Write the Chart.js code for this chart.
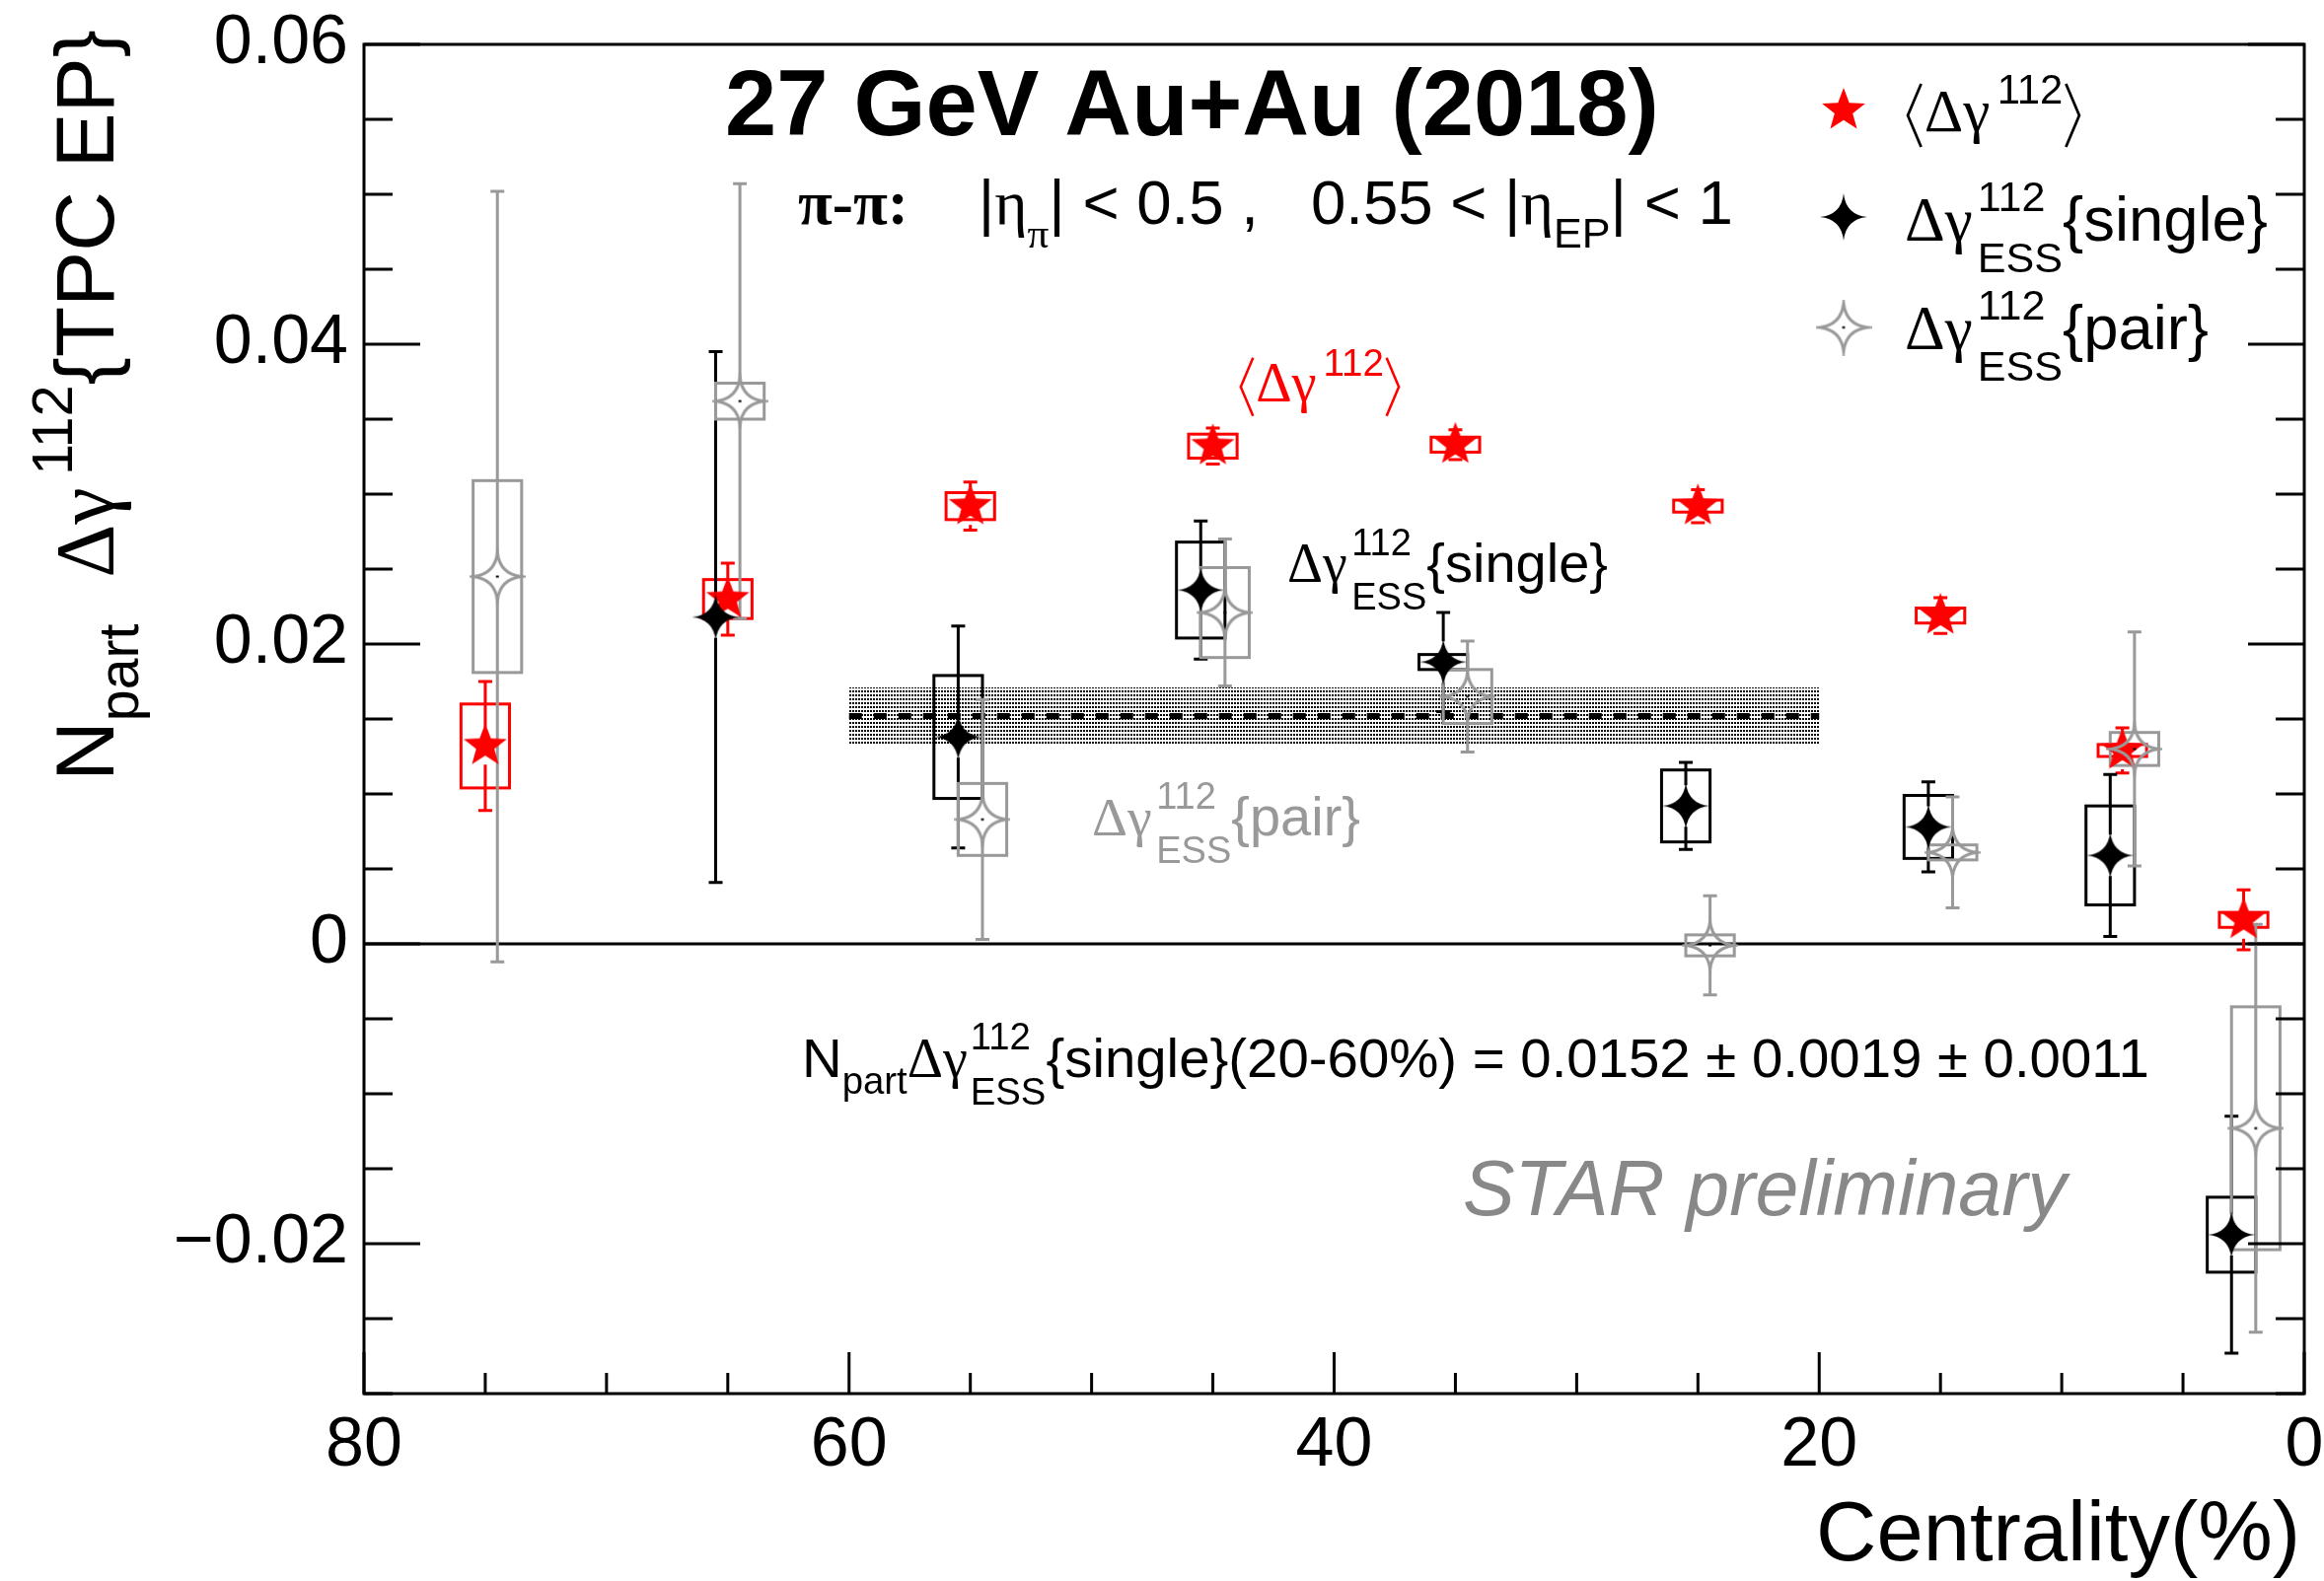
<!DOCTYPE html>
<html>
<head>
<meta charset="utf-8">
<script src="https://cdn.jsdelivr.net/npm/chart.js@4.4.1/dist/chart.umd.min.js"></script>
<style>
  html, body { margin: 0; padding: 0; background: #fff; }
  canvas { display: block; }
</style>
</head>
<body>
<canvas id="chart" width="2356" height="1603" style="width:2356px;height:1603px"></canvas>
<script>
// <Δγ112> (red stars)
const centMean  = [75, 65, 55, 45, 35, 25, 15, 7.5, 2.5];
const meanVal   = [0.0132, 0.0230, 0.0292, 0.0332, 0.0333, 0.0292, 0.0219, 0.0129, 0.0016];
const meanStat  = [0.0043, 0.0024, 0.0016, 0.0012, 0.0010, 0.0011, 0.0012, 0.0015, 0.0020];
const meanSys   = [0.0028, 0.0013, 0.0009, 0.0008, 0.0005, 0.0004, 0.0005, 0.0004, 0.0005];

// Δγ112_ESS{single} (black stars)
const centSingle = [65.5, 55.5, 45.5, 35.5, 25.5, 15.5, 8, 3];
const singleVal  = [0.0218, 0.0138, 0.0236, 0.0188, 0.0092, 0.0078, 0.0059, -0.0194];
const singleStat = [0.0177, 0.0074, 0.0046, 0.0033, 0.0029, 0.0030, 0.0054, 0.0079];
const singleSys  = [0, 0.0041, 0.0032, 0.0005, 0.0024, 0.0021, 0.0033, 0.0025];

// Δγ112_ESS{pair} (grey open stars)
const centPair = [74.5, 64.5, 54.5, 44.5, 34.5, 24.5, 14.5, 7, 2];
const pairVal  = [0.0245, 0.0362, 0.0083, 0.0221, 0.0165, -0.0001, 0.0061, 0.0130, -0.0123];
const pairStat = [0.0257, 0.0145, 0.0080, 0.0049, 0.0037, 0.0033, 0.0037, 0.0078, 0.0136];
const pairSys  = [0.0064, 0.0012, 0.0024, 0.0030, 0.0018, 0.0007, 0.0005, 0.0011, 0.0081];

// 20-60% average of the single result
const avgRange = [60, 20];
const avgVal = 0.0152;
const avgStat = 0.0019;

const xTickVals = [80, 60, 40, 20, 0];
const yTickVals = [-0.02, 0, 0.02, 0.04, 0.06];
const yTickText = ['\u22120.02', '0', '0.02', '0.04', '0.06'];

const SANS = '"Liberation Sans", Arial, Helvetica, sans-serif';
const SERIF = '"Liberation Serif", "Times New Roman", serif';
const RED = '#ff0000';
const GREY = '#999999';
const BOX_HALF = 1.0;   // sys box half width in centrality units
const CAP = 7;

Chart.defaults.font.family = SANS;

// markers
function starMarker(n, R, inner, fill, stroke, lw, dot, curved) {
  const s = Math.ceil(2 * R + lw + 6);
  const c = document.createElement('canvas');
  c.width = c.height = s;
  const g = c.getContext('2d');
  g.translate(s / 2, s / 2);
  g.beginPath();
  for (let i = 0; i < n; i++) {
    const a = -Math.PI / 2 + i * 2 * Math.PI / n;
    const b = a + Math.PI / n;
    const a2 = a + 2 * Math.PI / n;
    if (i === 0) g.moveTo(R * Math.cos(a), R * Math.sin(a));
    if (curved) {
      g.quadraticCurveTo(inner * R * Math.cos(b), inner * R * Math.sin(b), R * Math.cos(a2), R * Math.sin(a2));
    } else {
      g.lineTo(inner * R * Math.cos(b), inner * R * Math.sin(b));
      g.lineTo(R * Math.cos(a2), R * Math.sin(a2));
    }
  }
  g.closePath();
  if (fill) { g.fillStyle = fill; g.fill(); }
  if (stroke) { g.strokeStyle = stroke; g.lineWidth = lw; g.lineJoin = 'miter'; g.stroke(); }
  if (dot) { g.fillStyle = dot; g.fillRect(-1.5, -1, 3, 2); }
  return c;
}
const redStar = starMarker(5, 23, 0.42, RED, null, 0, null, false);
const blackStar = starMarker(4, 24, 0.13, '#000', null, 0, null, true);
const greyStar = starMarker(4, 24, 0.16, null, GREY, 3, '#000', true);

// rich text (ROOT-like latex bits)
function fontOf(k, s) {
  const fam = (k === 'g' || k === 'gb') ? SERIF : SANS;
  const w = (k === 'b' || k === 'gb') ? 'bold ' : '';
  const it = k === 'i' ? 'italic ' : '';
  return it + w + s + 'px ' + fam;
}
function layoutRich(ctx, parts, F) {
  let x = 0;
  const out = [];
  for (const p of parts) {
    if (p.br) { out.push({ p, x }); x += 0.32 * F; continue; }
    if (p.sup != null || p.sub != null) {
      const s = F * 0.68;
      x += (p.pre || 0) * F;
      ctx.font = fontOf(p.k || 'n', s);
      const w = Math.max(p.sup ? ctx.measureText(p.sup).width : 0, p.sub ? ctx.measureText(p.sub).width : 0);
      out.push({ p, x, s });
      x += w + (p.post || 0) * F;
      continue;
    }
    const s = F * (p.sc || 1);
    ctx.font = fontOf(p.k || 'n', s);
    out.push({ p, x, s });
    x += ctx.measureText(p.t).width;
  }
  return { out, w: x };
}
function drawRich(ctx, parts, x0, y0, opt) {
  let F = opt.size;
  let L = layoutRich(ctx, parts, F);
  if (opt.width) { F = F * opt.width / L.w; L = layoutRich(ctx, parts, F); }
  let x = x0;
  if (opt.align === 'right') x -= L.w;
  else if (opt.align === 'center') x -= L.w / 2;
  ctx.save();
  ctx.fillStyle = ctx.strokeStyle = opt.color || '#000';
  ctx.textBaseline = 'alphabetic';
  ctx.textAlign = 'left';
  for (const it of L.out) {
    const p = it.p, px = x + it.x;
    if (p.br) {
      const a = px + 0.05 * F, b = px + 0.27 * F;
      ctx.lineWidth = 0.045 * F;
      ctx.beginPath();
      if (p.br < 0) { ctx.moveTo(b, y0 - 0.78 * F); ctx.lineTo(a, y0 - 0.26 * F); ctx.lineTo(b, y0 + 0.26 * F); }
      else { ctx.moveTo(a, y0 - 0.78 * F); ctx.lineTo(b, y0 - 0.26 * F); ctx.lineTo(a, y0 + 0.26 * F); }
      ctx.stroke();
      continue;
    }
    ctx.font = fontOf(p.k || 'n', it.s);
    if (p.sup != null || p.sub != null) {
      if (p.sup) ctx.fillText(p.sup, px, y0 - (p.up != null ? p.up : 0.45) * F);
      if (p.sub) ctx.fillText(p.sub, px, y0 + (p.dn != null ? p.dn : 0.3) * F);
    } else {
      ctx.fillText(p.t, px, y0);
    }
  }
  ctx.restore();
}

const meanLabel = [{ br: -1 }, { t: '\u0394\u03b3', k: 'g' }, { sup: '112', pre: 0.12, up: 0.45 }, { br: 1 }];
const singleLabel = [{ t: '\u0394\u03b3', k: 'g' }, { sup: '112', sub: 'ESS', pre: 0.08, up: 0.48, dn: 0.5 }, { t: '{single}' }];
const pairLabel = [{ t: '\u0394\u03b3', k: 'g' }, { sup: '112', sub: 'ESS', pre: 0.08, up: 0.48, dn: 0.5 }, { t: '{pair}' }];

function drawSeries(ctx, x, y, cents, vals, stat, sys, color, gap) {
  ctx.strokeStyle = color;
  ctx.lineWidth = 3;
  for (let i = 0; i < cents.length; i++) {
    const px = x.getPixelForValue(cents[i]);
    const py = y.getPixelForValue(vals[i]);
    if (sys[i] > 0) {
      const xl = x.getPixelForValue(cents[i] + BOX_HALF);
      const xr = x.getPixelForValue(cents[i] - BOX_HALF);
      const bt = y.getPixelForValue(vals[i] + sys[i]);
      const bb = y.getPixelForValue(vals[i] - sys[i]);
      ctx.strokeRect(Math.min(xl, xr), bt, Math.abs(xr - xl), bb - bt);
    }
    const et = y.getPixelForValue(vals[i] + stat[i]);
    const eb = y.getPixelForValue(vals[i] - stat[i]);
    ctx.beginPath();
    if (py - gap > et) { ctx.moveTo(px, et); ctx.lineTo(px, py - gap); }
    if (py + gap < eb) { ctx.moveTo(px, py + gap); ctx.lineTo(px, eb); }
    ctx.moveTo(px - CAP, et); ctx.lineTo(px + CAP, et);
    ctx.moveTo(px - CAP, eb); ctx.lineTo(px + CAP, eb);
    ctx.stroke();
  }
}

const rootStyle = {
  id: 'rootStyle',
  beforeDatasetsDraw(chart) {
    const { ctx, chartArea: a, scales: { x, y } } = chart;
    ctx.save();
    // average band + dashed line
    const pc = document.createElement('canvas');
    pc.width = 3; pc.height = 4;
    const pg = pc.getContext('2d');
    pg.fillStyle = '#000';
    pg.fillRect(0, 0, 2, 2);
    const bx0 = x.getPixelForValue(avgRange[0]), bx1 = x.getPixelForValue(avgRange[1]);
    const by0 = y.getPixelForValue(avgVal + avgStat), by1 = y.getPixelForValue(avgVal - avgStat);
    ctx.fillStyle = ctx.createPattern(pc, 'repeat');
    ctx.fillRect(bx0, by0, bx1 - bx0, by1 - by0);
    ctx.strokeStyle = '#000';
    ctx.lineWidth = 6;
    ctx.setLineDash([13, 12]);
    ctx.beginPath();
    ctx.moveTo(bx0, y.getPixelForValue(avgVal));
    ctx.lineTo(bx1, y.getPixelForValue(avgVal));
    ctx.stroke();
    ctx.setLineDash([]);
    // zero line
    ctx.lineWidth = 3;
    ctx.beginPath();
    ctx.moveTo(a.left, y.getPixelForValue(0));
    ctx.lineTo(a.right, y.getPixelForValue(0));
    ctx.stroke();
    drawSeries(ctx, x, y, centMean, meanVal, meanStat, meanSys, RED, 19);
    drawSeries(ctx, x, y, centSingle, singleVal, singleStat, singleSys, '#000', 21);
    drawSeries(ctx, x, y, centPair, pairVal, pairStat, pairSys, GREY, 22);
    ctx.restore();
  },
  afterDraw(chart) {
    const { ctx, chartArea: a, scales: { x, y } } = chart;
    ctx.save();
    // frame
    ctx.strokeStyle = '#000';
    ctx.lineWidth = 3;
    ctx.strokeRect(a.left, a.top, a.right - a.left, a.bottom - a.top);
    // ticks (inside, ROOT style)
    ctx.beginPath();
    for (let v = -0.03; v <= 0.0601; v += 0.005) {
      const py = y.getPixelForValue(v);
      const major = yTickVals.some(t => Math.abs(t - v) < 1e-6);
      const len = major ? 57 : 29;
      ctx.moveTo(a.left, py); ctx.lineTo(a.left + len, py);
      ctx.moveTo(a.right, py); ctx.lineTo(a.right - len, py);
    }
    for (let c = 0; c <= 80; c += 5) {
      const px = x.getPixelForValue(c);
      const len = xTickVals.includes(c) ? 42 : 21;
      ctx.moveTo(px, a.bottom); ctx.lineTo(px, a.bottom - len);
    }
    ctx.stroke();

    // axis titles
    drawRich(ctx, [{ t: 'Centrality(%)' }], 2332, 1582, { size: 86, width: 491, align: 'right' });
    ctx.save();
    ctx.translate(115, 792);
    ctx.rotate(-Math.PI / 2);
    drawRich(ctx, [{ t: 'N' }, { sub: 'part', dn: 0.3 }, { t: '  ' }, { t: '\u0394\u03b3', k: 'g' },
      { sup: '112', pre: 0.15, up: 0.5 }, { t: '{TPC EP}' }], 0, 0, { size: 84, width: 762 });
    ctx.restore();

    // header
    drawRich(ctx, [{ t: '27 GeV Au+Au (2018)', k: 'b' }], 735, 137, { size: 92, width: 947 });
    drawRich(ctx, [{ t: '\u03c0-\u03c0:', k: 'gb' }, { t: '    ' }, { t: '|' }, { t: '\u03b7', k: 'g' },
      { sub: '\u03c0', k: 'g', dn: 0.38 }, { t: '| < 0.5 ,   0.55 < |' }, { t: '\u03b7', k: 'g' },
      { sub: 'EP', dn: 0.38 }, { t: '| < 1' }], 809, 227, { size: 62, width: 948 });

    // legend
    ctx.drawImage(redStar, 1869 - redStar.width / 2, 112 - redStar.height / 2);
    ctx.drawImage(blackStar, 1869 - blackStar.width / 2, 220 - blackStar.height / 2);
    ctx.drawImage(greyStar, 1869 - greyStar.width / 2, 332 - greyStar.height / 2);
    drawRich(ctx, meanLabel, 1931, 133, { size: 66, width: 180 });
    drawRich(ctx, singleLabel, 1931, 244, { size: 66, width: 368 });
    drawRich(ctx, pairLabel, 1931, 354, { size: 66, width: 308 });

    // labels inside the frame
    drawRich(ctx, meanLabel, 1255, 407, { size: 60, width: 166, color: RED });
    drawRich(ctx, singleLabel, 1305, 590, { size: 58, width: 325 });
    drawRich(ctx, pairLabel, 1107, 847, { size: 58, width: 272, color: GREY });
    drawRich(ctx, [{ t: 'N' }, { sub: 'part', dn: 0.3 }, { t: '\u0394\u03b3', k: 'g' },
      { sup: '112', sub: 'ESS', pre: 0.05, up: 0.5, dn: 0.5 },
      { t: '{single}(20-60%) = 0.0152 \u00b1 0.0019 \u00b1 0.0011' }], 813, 1092, { size: 55, width: 1366 });
    drawRich(ctx, [{ t: 'STAR preliminary', k: 'i' }], 1483, 1232, { size: 78, width: 612, color: '#888888' });
    ctx.restore();
  }
};

const toPts = (xs, ys) => xs.map((c, i) => ({ x: c, y: ys[i] }));

new Chart(document.getElementById('chart'), {
  type: 'scatter',
  data: {
    datasets: [
      { label: 'pair', data: toPts(centPair, pairVal), pointStyle: greyStar, order: 1 },
      { label: 'single', data: toPts(centSingle, singleVal), pointStyle: blackStar, order: 2 },
      { label: 'mean', data: toPts(centMean, meanVal), pointStyle: redStar, order: 3 }
    ]
  },
  options: {
    responsive: false,
    animation: false,
    devicePixelRatio: 1,
    layout: { padding: { left: 0, right: 20, top: 45, bottom: 0 } },
    plugins: { legend: { display: false }, tooltip: { enabled: false } },
    scales: {
      x: {
        type: 'linear', reverse: true, min: 0, max: 80,
        grid: { display: false, drawTicks: false },
        border: { display: false },
        afterBuildTicks: s => { s.ticks = xTickVals.map(v => ({ value: v })); },
        afterFit: s => { s.height = 190; s.paddingLeft = 0; s.paddingRight = 0; },
        ticks: { color: '#000', font: { size: 70 }, padding: 12, maxRotation: 0, autoSkip: false }
      },
      y: {
        type: 'linear', min: -0.03, max: 0.06,
        grid: { display: false, drawTicks: false },
        border: { display: false },
        afterBuildTicks: s => { s.ticks = yTickVals.map(v => ({ value: v })); },
        afterFit: s => { s.width = 369; s.paddingTop = 0; s.paddingBottom = 0; },
        ticks: { color: '#000', font: { size: 70 }, padding: 16, autoSkip: false,
                 callback: (v, i) => yTickText[i] }
      }
    }
  },
  plugins: [rootStyle]
});
</script>
</body>
</html>
